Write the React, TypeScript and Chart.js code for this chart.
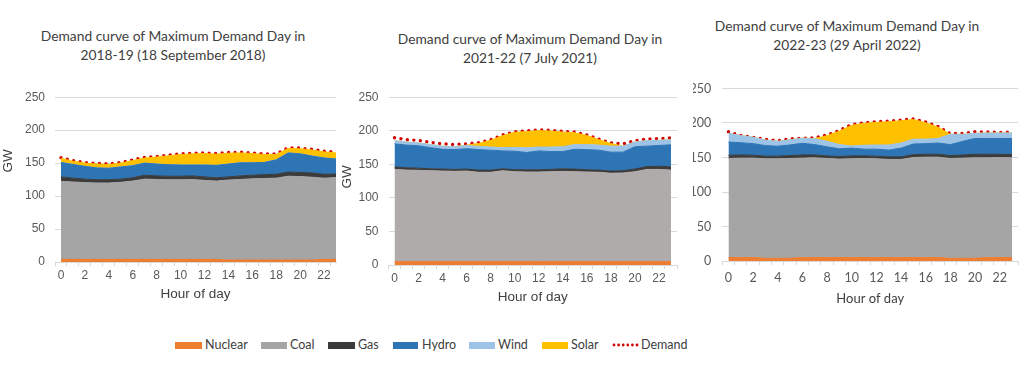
import React, { useEffect, useRef } from 'react';
import { Chart, registerables } from 'chart.js';

Chart.register(...registerables);

const hours = [0, 1, 2, 3, 4, 5, 6, 7, 8, 9, 10, 11, 12, 13, 14, 15, 16, 17, 18, 19, 20, 21, 22, 23];
const yTicks = [0, 50, 100, 150, 200, 250];

// Panel 1: 2018-19 (18 September 2018)
const nuclear1 = [4, 4, 4, 4, 4, 4, 4, 4, 4, 4, 4, 4, 4, 4, 3, 3, 3, 3, 3, 3, 3, 3, 4, 4];
const coal1 = [118.3, 117.4, 116.4, 115.9, 115.9, 116.9, 118.8, 121.7, 121.2, 120.8, 120.8, 121.2, 119.8, 118.8, 121.3, 122.2, 123.2, 123.7, 124.2, 127.1, 126.6, 125.6, 123.2, 124.2];
const gas1 = [6.8, 5.8, 5.3, 4.9, 4.9, 4.8, 4.9, 5.9, 5.4, 5.3, 5.3, 5.4, 5.3, 4.9, 4.8, 5.4, 5.4, 5.8, 5.8, 6.3, 6.3, 6.4, 5.8, 5.3];
const hydro1 = [21.9, 20.8, 19.4, 17.9, 17.4, 18.5, 18.4, 18.4, 17.9, 17.5, 17.0, 16.5, 18.0, 18.9, 19.4, 19.9, 18.9, 18.5, 21.9, 29.1, 28.2, 25.7, 24.8, 22.8];
const wind1 = [0, 0, 0, 0, 0, 0, 0, 0, 0, 0, 0, 0, 0, 0, 0, 0, 0, 0, 0, 0, 0, 0, 0, 0];
const solar1 = [6.3, 4.9, 4.9, 5.8, 5.8, 5.8, 7.8, 7.7, 10.7, 13.5, 16, 16.9, 17.4, 17, 16.5, 15, 14, 12, 8.1, 6.8, 7.7, 9.2, 9.2, 9.2];
const demand1 = [158.3, 153.9, 151, 149.5, 149, 151, 154.9, 158.7, 160.2, 162.1, 164.1, 165, 165.5, 164.6, 166, 166.5, 165.5, 164, 164, 173.3, 172.8, 170.9, 168, 166.5];

// Panel 2: 2021-22 (7 July 2021)
const nuclear2 = [5, 5, 5, 5, 5, 5, 5, 5, 5, 5, 5, 5, 5, 5, 5, 5, 5, 5, 5, 5, 5, 5, 5, 5];
const coal2 = [137.4, 136.4, 136, 135.5, 135, 134.5, 135, 133.1, 133.1, 135.5, 134, 133.6, 133.6, 134, 134.5, 134, 133.6, 133.1, 131.7, 132.1, 134, 137.4, 137.4, 136.4];
const gas2 = [3.8, 3.4, 3.3, 2.8, 2.9, 2.9, 2.9, 3.3, 3.3, 2.8, 2.9, 3.3, 3.3, 3.4, 3.8, 3.9, 3.3, 3.3, 3.3, 3.4, 3.9, 4.3, 4.7, 4.8];
const hydro2 = [34.3, 33.8, 33.3, 31.5, 29.5, 29.5, 30.4, 30.5, 29.6, 26.7, 27.6, 25.7, 28.1, 26.6, 25.7, 29.5, 30, 29.6, 28.1, 27.6, 33.3, 30.4, 31, 32.8];
const wind2 = [4.7, 4.7, 4.3, 4.7, 4.7, 4.3, 4.8, 4.8, 4.7, 4.8, 5.7, 7.2, 5.7, 6.7, 7.2, 7.1, 7.6, 7.6, 9, 9, 7.1, 8.1, 7.6, 7.7];
const solar2 = [0, 0, 0, 0, 0, 0, 0.5, 4.5, 10, 18, 22.5, 24, 24.5, 23.8, 21.8, 17.6, 13.3, 8, 3.8, 0, 0, 0, 0, 0];
const demand2 = [189.5, 186.7, 185.7, 182.9, 180.5, 179.5, 180.5, 182.4, 186.7, 193.8, 198.6, 200, 201.4, 200.5, 199, 198.1, 193.8, 187.6, 181.9, 180.5, 185.2, 187.6, 188.1, 189.5];

// Panel 3: 2022-23 (29 April 2022)
const nuclear3 = [5, 5, 5, 4, 4, 4, 5, 5, 5, 5, 5, 5, 5, 5, 5, 5, 5, 5, 4, 4, 4, 5, 5, 5];
const coal3 = [143.6, 144.1, 144.1, 144.1, 144.1, 144.6, 144.1, 144.5, 143.6, 142.7, 143.1, 143.6, 143.1, 142.2, 142.2, 145, 145.5, 145.5, 144.6, 145.1, 145.5, 144.5, 145, 144.5];
const gas3 = [4.7, 4.6, 4.2, 3.8, 3.8, 4.2, 4.6, 4.2, 3.7, 3.7, 4.2, 3.7, 3.8, 3.7, 3.7, 4.2, 4.2, 4.2, 4.2, 4.6, 5.2, 5.2, 4.7, 4.7];
const hydro3 = [19.1, 17.8, 16.8, 15.4, 14.5, 15.4, 16.9, 15, 13.1, 11.2, 11.3, 9.8, 10.2, 9.8, 12.7, 15.4, 15.4, 16.3, 15.9, 19.7, 22.9, 22.9, 22.9, 23.4];
const wind3 = [12.6, 10.3, 9.3, 7.9, 7, 7.5, 7.4, 8.4, 8, 6.1, 3.2, 5.7, 6.1, 7.5, 7.4, 7, 6.5, 6.6, 14.9, 10.2, 7.4, 7.9, 7.9, 7.9];
const solar3 = [0, 0, 0, 0, 0, 0, 0, 0.4, 8.3, 19.6, 29.9, 31.7, 32.7, 33.6, 32.2, 28.5, 23.8, 16.3, 0, 0, 0, 0, 0, 0];
const demand3 = [187.4, 181.8, 179.4, 176.2, 174.3, 177.1, 178, 178.5, 182.7, 189.3, 197.7, 200.5, 201.9, 202.8, 204.2, 206.1, 201.4, 194.9, 184.6, 185, 187.4, 186.9, 186.4, 186.9];

const seriesNames = ['Nuclear', 'Coal', 'Gas', 'Hydro', 'Wind', 'Solar'];
const titles = [
  ['Demand curve of Maximum Demand Day in', '2018-19 (18 September 2018)'],
  ['Demand curve of Maximum Demand Day in', '2021-22 (7 July 2021)'],
  ['Demand curve of Maximum Demand Day in', '2022-23 (29 April 2022)'],
];
const xTitle = 'Hour of day';
const yTitle = 'GW';

const COLORS = {
  Nuclear: '#ED7D31',
  Coal: '#A5A5A5',
  Gas: '#3B3B3B',
  Hydro: '#2E75B6',
  Wind: '#9DC3E6',
  Solar: '#FFC000',
  Demand: '#D40000',
};

type Panel = {
  series: number[][];
  demand: number[];
  coalColor: string;
  left: number; top: number; w: number; h: number;
  yW: number; padR: number; padT: number; xH: number;
  xMax: number; tickPad: number; titlePB: number; yPad: number;
  tickFont: string; tickSize: number; titleFont: string; titleSize: number;
};

const panels: Panel[] = [
  {
    series: [nuclear1, coal1, gas1, hydro1, wind1, solar1], demand: demand1, coalColor: '#A5A5A5',
    left: 0, top: 80, w: 345, h: 225, yW: 55, padR: 9, padT: 11.5, xH: 43, xMax: 23, tickPad: 2, titlePB: 2.4, yPad: 10,
    tickFont: "'Liberation Sans', Arial, sans-serif", tickSize: 12, titleFont: "'Liberation Sans', Arial, sans-serif", titleSize: 13.5,
  },
  {
    series: [nuclear2, coal2, gas2, hydro2, wind2, solar2], demand: demand2, coalColor: '#AEABAA',
    left: 352, top: 80, w: 333, h: 230, yW: 36.5, padR: 8, padT: 10.5, xH: 45, xMax: 23.5, tickPad: 2.1, titlePB: 4.5, yPad: 10,
    tickFont: "'Liberation Sans', Arial, sans-serif", tickSize: 12, titleFont: "'Liberation Sans', Arial, sans-serif", titleSize: 13.5,
  },
  {
    series: [nuclear3, coal3, gas3, hydro3, wind3, solar3], demand: demand3, coalColor: '#A5A5A5',
    left: 693, top: 70, w: 331, h: 240, yW: 29.3, padR: 4.5, padT: 12, xH: 49, xMax: 23.5, tickPad: 5.8, titlePB: 3.4, yPad: 11,
    tickFont: "Lato, sans-serif", tickSize: 12.5, titleFont: "Lato, sans-serif", titleSize: 13,
  },
];

function buildConfig(p: Panel): any {
  const datasets: any[] = p.series.map((vals, si) => {
    const name = seriesNames[si];
    const color = name === 'Coal' ? p.coalColor : (COLORS as any)[name];
    return {
      label: name,
      data: hours.map((h, i) => ({ x: h, y: vals[i] })),
      backgroundColor: color,
      borderColor: color,
      borderWidth: 1,
      pointRadius: 0,
      fill: si === 0 ? 'origin' : '-1',
      stack: 'gen',
      tension: 0,
    };
  });
  datasets.push({
    label: 'Demand',
    data: hours.map((h, i) => ({ x: h, y: p.demand[i] })),
    borderColor: COLORS.Demand,
    backgroundColor: COLORS.Demand,
    borderWidth: 3.4,
    borderDash: [0, 6.5],
    borderCapStyle: 'round',
    pointRadius: 0,
    fill: false,
    stack: 'demand',
    tension: 0,
  });

  const xTickValues: number[] = [];
  for (let b = -0.5; b <= p.xMax + 1e-6; b += 1) xTickValues.push(b);
  hours.filter((h) => h % 2 === 0).forEach((h) => xTickValues.push(h));
  xTickValues.sort((a, b) => a - b);

  return {
    type: 'line',
    data: { datasets },
    options: {
      animation: false,
      responsive: false,
      maintainAspectRatio: false,
      layout: { padding: { left: 0, right: p.padR, top: p.padT, bottom: 0 } },
      plugins: { legend: { display: false }, tooltip: { enabled: false }, title: { display: false } },
      scales: {
        x: {
          type: 'linear',
          min: -0.5,
          max: p.xMax,
          afterBuildTicks: (axis: any) => {
            axis.ticks = xTickValues.map((v) => ({ value: v }));
          },
          afterFit: (s: any) => { s.height = p.xH; },
          ticks: {
            autoSkip: false,
            maxRotation: 0,
            minRotation: 0,
            padding: p.tickPad,
            color: '#595959',
            font: { family: p.tickFont, size: p.tickSize },
            callback: (v: any) => (Number.isInteger(v) && v % 2 === 0 ? String(v) : ''),
          },
          grid: {
            drawOnChartArea: false,
            drawTicks: true,
            tickLength: 4,
            color: (ctx: any) => (ctx.tick && Number.isInteger(ctx.tick.value) ? 'rgba(0,0,0,0)' : '#D9D9D9'),
          },
          border: { display: true, color: '#D9D9D9', width: 1 },
          title: {
            display: true,
            text: xTitle,
            color: '#404040',
            font: { family: p.titleFont, size: p.titleSize },
            padding: { top: 0, bottom: p.titlePB },
          },
        },
        y: {
          type: 'linear',
          stacked: true,
          min: 0,
          max: 250,
          afterBuildTicks: (axis: any) => {
            axis.ticks = yTicks.map((v) => ({ value: v }));
          },
          afterFit: (s: any) => { s.width = p.yW; },
          ticks: {
            padding: p.yPad,
            color: '#595959',
            font: { family: p.tickFont, size: p.tickSize },
          },
          grid: { color: '#D9D9D9', drawTicks: false },
          border: { display: false },
        },
      },
    },
  };
}

function PanelChart({ p }: { p: Panel }) {
  const ref = useRef<HTMLCanvasElement>(null);
  useEffect(() => {
    const chart = new Chart(ref.current as HTMLCanvasElement, buildConfig(p));
    return () => chart.destroy();
  }, [p]);
  return (
    <canvas
      ref={ref}
      width={p.w}
      height={p.h}
      style={{ position: 'absolute', left: p.left, top: p.top, width: p.w, height: p.h }}
    />
  );
}

const titlePos = [
  { cx: 173, y: 35 },
  { cx: 530, y: 38.3 },
  { cx: 847, y: 25 },
];

const gwPos = [
  { cx: 8, cy: 161 },
  { cx: 347, cy: 177 },
];

const legendItems = [
  { name: 'Nuclear', sx: 175, sw: 27, tx: 205 },
  { name: 'Coal', sx: 261, sw: 26, tx: 290 },
  { name: 'Gas', sx: 328, sw: 27, tx: 358 },
  { name: 'Hydro', sx: 393, sw: 25, tx: 422 },
  { name: 'Wind', sx: 469, sw: 26, tx: 498 },
  { name: 'Solar', sx: 542, sw: 26, tx: 571 },
  { name: 'Demand', sx: 612, sw: 26, tx: 641 },
];

export default function App() {
  const titleFont = "Lato, 'Noto Sans', sans-serif";
  return (
    <div style={{ position: 'absolute', left: 0, top: 0, width: 1024, height: 367, background: '#fff', overflow: 'hidden' }}>
      {panels.map((p, i) => (
        <PanelChart key={i} p={p} />
      ))}
      {titles.map((lines, i) => (
        <div
          key={'t' + i}
          style={{
            position: 'absolute', left: titlePos[i].cx - 200, width: 400, top: titlePos[i].y - 9.5,
            textAlign: 'center', fontFamily: titleFont, fontSize: 13.8, lineHeight: '19px', color: '#404040',
            whiteSpace: 'nowrap',
          }}
        >
          {lines.map((l, j) => (<div key={j}>{l}</div>))}
        </div>
      ))}
      {gwPos.map((g, i) => (
        <div
          key={'g' + i}
          style={{
            position: 'absolute', left: g.cx - 20, top: g.cy - 8, width: 40, height: 16, lineHeight: '16px',
            textAlign: 'center', transform: 'rotate(-90deg)', fontFamily: "'Liberation Sans', Arial, sans-serif",
            fontSize: 13.5, color: '#404040',
          }}
        >
          {yTitle}
        </div>
      ))}
      {legendItems.map((it) => (
        <React.Fragment key={it.name}>
          {it.name === 'Demand' ? (
            <svg style={{ position: 'absolute', left: it.sx, top: 341 }} width={it.sw + 2} height={8}>
              {[0, 1, 2, 3, 4, 5].map((k) => (
                <circle key={k} cx={2 + k * 4.6} cy={4} r={1.4} fill={COLORS.Demand} />
              ))}
            </svg>
          ) : (
            <div style={{ position: 'absolute', left: it.sx, top: 341.5, width: it.sw, height: 7, background: (COLORS as any)[it.name] }} />
          )}
          <div
            style={{
              position: 'absolute', left: it.tx, top: 337, lineHeight: '16px', fontFamily: titleFont,
              fontSize: 12.5, color: '#404040', whiteSpace: 'nowrap',
            }}
          >
            {it.name}
          </div>
        </React.Fragment>
      ))}
    </div>
  );
}
